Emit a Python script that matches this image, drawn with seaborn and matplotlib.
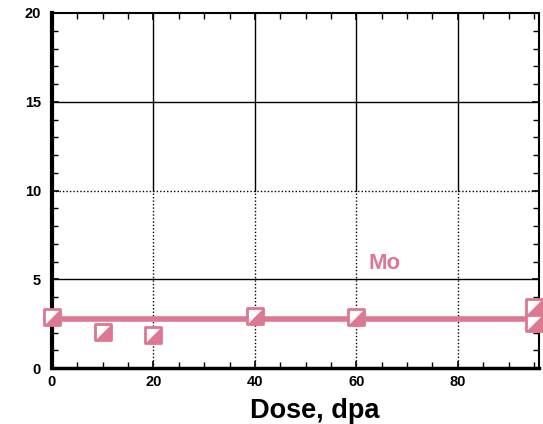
import matplotlib
matplotlib.use("Agg")
import matplotlib.pyplot as plt
import seaborn as sns
import pandas as pd
from matplotlib.ticker import MultipleLocator

# Measured swelling / property change of Mo versus irradiation dose
dose = [0, 10, 20, 40, 60, 95, 95]
value = [2.87, 2.03, 1.86, 2.93, 2.90, 3.44, 2.54]

# Linear trend through the data
fit_dose = [0, 95]
fit_value = [2.76, 2.76]

series_label = "Mo"
x_label = "Dose, dpa"
pink = "#dc7892"

sns.set_theme(style="white")
plt.rcParams["font.family"] = ["Liberation Sans", "DejaVu Sans"]
plt.rcParams["text.color"] = "black"

fig = plt.figure(figsize=(5.43, 4.24), dpi=100)
ax = fig.add_axes([52 / 543, 1 - 368 / 424, (539 - 52) / 543, (368 - 13) / 424])

pts = pd.DataFrame({"dose": dose, "value": value})
fit = pd.DataFrame({"dose": fit_dose, "value": fit_value})

ax.set_xlim(0, 96)
ax.set_ylim(0, 20)

# grid: solid in the upper half, dotted lower down
for gx in [20, 40, 60, 80]:
    ax.axvline(gx, ymin=0.5, ymax=1, color="black", lw=1.0, zorder=1)
    ax.axvline(gx, ymin=0, ymax=0.5, color="black", lw=1.0, ls=(0, (1, 1.5)), zorder=1)
ax.axhline(15, color="black", lw=1.0, zorder=1)
ax.axhline(10, color="black", lw=1.0, ls=(0, (1, 1.5)), zorder=1)
ax.axhline(5, color="black", lw=1.0, zorder=1)

sns.lineplot(data=fit, x="dose", y="value", color=pink, lw=4, ax=ax, zorder=3)

# half-filled square markers: white square with pink edge plus a filled diagonal half
msize = 120
sns.scatterplot(data=pts, x="dose", y="value", marker="s", s=msize, color="white",
                edgecolor=pink, linewidth=2, ax=ax, zorder=4, clip_on=False)
tri = [(1, 1), (1, -1), (-1, -1), (1, 1)]
ax.scatter(pts["dose"], pts["value"], marker=tri, s=msize, color=pink, linewidths=0,
           zorder=5, clip_on=False)

ax.text(62.4, 5.9, series_label, color=pink, fontsize=16, fontweight="bold",
        ha="left", va="center")

ax.xaxis.set_major_locator(MultipleLocator(20))
ax.xaxis.set_minor_locator(MultipleLocator(5))
ax.yaxis.set_major_locator(MultipleLocator(5))
ax.yaxis.set_minor_locator(MultipleLocator(1))
ax.tick_params(which="both", direction="in", top=True, right=True, bottom=True, left=True,
               colors="black", labelcolor="black", labelsize=10.5)
ax.tick_params(which="major", length=5, width=1.2)
ax.tick_params(which="minor", length=4, width=1.0)
ax.tick_params(axis="y", which="both", pad=8)
ax.tick_params(axis="x", which="both", pad=5)
for lbl in ax.get_xticklabels() + ax.get_yticklabels():
    lbl.set_fontweight("bold")

for side, w in {"left": 3, "bottom": 2.5, "top": 1.5, "right": 1.5}.items():
    ax.spines[side].set_visible(True)
    ax.spines[side].set_color("black")
    ax.spines[side].set_linewidth(w)

ax.set_xlabel(x_label, fontsize=19.5, fontweight="bold", color="black")
ax.xaxis.set_label_coords((315 - 52) / 487, -0.085)
ax.set_ylabel("")
ax.grid(False)

fig.savefig("out.png", dpi=100)
